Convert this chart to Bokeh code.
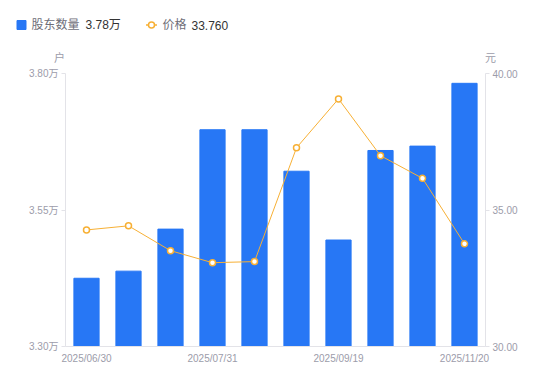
from bokeh.plotting import figure
from bokeh.models import Range1d, LinearAxis, FixedTicker, PrintfTickFormatter
from bokeh.embed import file_html
from bokeh.resources import INLINE
from bokeh.core.properties import value

# ---- data ----
dates = ["2025/06/30", "2025/07/10", "2025/07/20", "2025/07/31", "2025/08/20",
         "2025/08/31", "2025/09/19", "2025/09/30", "2025/10/31", "2025/11/20"]
holders_wan = [3.425, 3.438, 3.515, 3.697, 3.697, 3.621, 3.495, 3.659, 3.667, 3.782]
prices = [34.27, 34.42, 33.51, 33.07, 33.11, 37.28, 39.07, 36.99, 36.16, 33.76]
holder_ticks = [3.30, 3.55, 3.80]
price_ticks = [30.0, 35.0, 40.0]
date_tick_idx = [0, 3, 6, 9]
series_names = ["股东数量", "价格"]
units = ["户", "元"]

BLUE = "#2777F5"
ORANGE = "#F7B035"
FONT = "Liberation Sans, Noto Sans CJK SC"
TICK_COLOR = "#9C9CAA"
LINE_COLOR = "#E3E3E8"

xs = list(range(len(dates)))

# ---- legend / unit strip (page coordinates) ----
LH = 66
leg = figure(width=550, height=LH, x_range=Range1d(0, 550), y_range=Range1d(LH, 0),
             output_backend="svg", toolbar_location=None, min_border=0,
             x_axis_location=None, y_axis_location=None)
leg.grid.visible = False
leg.outline_line_color = None
leg.background_fill_color = None
leg.border_fill_color = None
leg.scatter([21], [24.5], marker="square", size=9, color=BLUE)
leg.text([31], [24.5], text=[series_names[0]], text_font=value(FONT), text_font_size="12px",
         text_color="#6E6E78", text_baseline="middle", text_align="left")
leg.text([85], [24.5], text=[f"{holders_wan[-1]:.2f}万"], text_font=value(FONT), text_font_size="12px",
         text_color="#333333", text_baseline="middle", text_align="left")
leg.line([145.5, 156.5], [24.5, 24.5], color=ORANGE, line_width=1.5)
leg.scatter([151], [24.5], marker="circle", size=6, fill_color="white", line_color=ORANGE, line_width=1.5)
leg.text([162], [24.5], text=[series_names[1]], text_font=value(FONT), text_font_size="12px",
         text_color="#6E6E78", text_baseline="middle", text_align="left")
leg.text([191], [24.5], text=[f"{prices[-1]:.3f}"], text_font=value(FONT), text_font_size="12px",
         text_color="#333333", text_baseline="middle", text_align="left")
leg.text([59, 490], [57, 57], text=units, text_font=value(FONT), text_font_size="11px",
         text_color=TICK_COLOR, text_baseline="middle", text_align="center")

# ---- main chart ----
p = figure(width=550, height=314, x_range=Range1d(-0.5, len(dates) - 0.5),
           y_range=Range1d(holder_ticks[0], holder_ticks[-1]),
           output_backend="svg", toolbar_location=None,
           min_border_left=65, min_border_right=65, min_border_top=7, min_border_bottom=34)
p.extra_y_ranges = {"price": Range1d(price_ticks[0], price_ticks[-1])}
p.grid.visible = False
p.outline_line_color = None

p.vbar(x=xs, top=holders_wan, bottom=holder_ticks[0], width=0.6, color=BLUE)
p.line(xs, prices, y_range_name="price", color=ORANGE, line_width=1)
p.scatter(xs, prices, y_range_name="price", marker="circle", size=6,
          fill_color="white", line_color=ORANGE, line_width=1.5)

ya = p.yaxis[0]
ya.ticker = FixedTicker(ticks=holder_ticks)
ya.formatter = PrintfTickFormatter(format="%.2f万")

ra = LinearAxis(y_range_name="price")
ra.ticker = FixedTicker(ticks=price_ticks)
ra.formatter = PrintfTickFormatter(format="%.2f")
p.add_layout(ra, "right")

for ax in (ya, ra):
    ax.major_tick_out = 4
    ax.major_tick_in = 0
    ax.minor_tick_line_color = None
    ax.major_label_standoff = 3
    ax.major_tick_line_color = LINE_COLOR

xa = p.xaxis[0]
xa.ticker = FixedTicker(ticks=date_tick_idx)
xa.major_label_overrides = {i: dates[i] for i in date_tick_idx}
xa.major_tick_line_color = None
xa.minor_tick_line_color = None
xa.major_tick_out = 0
xa.major_tick_in = 0
xa.major_label_standoff = 6

for ax in (ya, ra, xa):
    ax.axis_line_color = LINE_COLOR
    ax.major_label_text_color = TICK_COLOR
    ax.major_label_text_font = FONT
    ax.major_label_text_font_size = "10px"

open("out.html", "w").write(file_html([leg, p], INLINE))
